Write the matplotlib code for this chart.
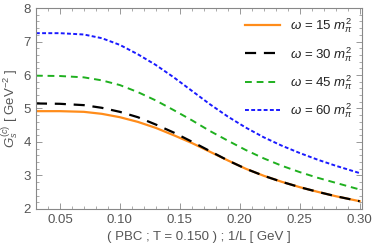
import numpy as np
import matplotlib
matplotlib.use("Agg")
import matplotlib.pyplot as plt
from matplotlib.ticker import MultipleLocator

plt.rcParams['font.family'] = ['Liberation Sans', 'DejaVu Sans']
plt.rcParams['mathtext.fontset'] = 'custom'
plt.rcParams['mathtext.it'] = 'Liberation Sans:italic'
plt.rcParams['mathtext.rm'] = 'Liberation Sans'

inv_L = [0.03, 0.05, 0.07, 0.085, 0.10, 0.115, 0.13, 0.145, 0.16, 0.175,
         0.19, 0.205, 0.22, 0.235, 0.25, 0.265, 0.28, 0.30]

g_w15 = [4.92, 4.92, 4.90, 4.84, 4.74, 4.60, 4.42, 4.20, 3.97, 3.71,
         3.45, 3.20, 2.99, 2.81, 2.65, 2.51, 2.38, 2.23]
g_w30 = [5.15, 5.14, 5.10, 5.02, 4.90, 4.74, 4.52, 4.28, 4.01, 3.73,
         3.45, 3.20, 2.99, 2.81, 2.65, 2.51, 2.38, 2.23]
g_w45 = [5.98, 5.97, 5.93, 5.84, 5.70, 5.49, 5.24, 4.95, 4.65, 4.33,
         4.04, 3.76, 3.51, 3.29, 3.10, 2.93, 2.78, 2.58]
g_w60 = [7.25, 7.25, 7.21, 7.10, 6.90, 6.62, 6.30, 5.93, 5.53, 5.13,
         4.76, 4.43, 4.14, 3.89, 3.67, 3.47, 3.29, 3.07]

labels = [r'$\omega$ = 15 $m_\pi^2$', r'$\omega$ = 30 $m_\pi^2$',
          r'$\omega$ = 45 $m_\pi^2$', r'$\omega$ = 60 $m_\pi^2$']

fig = plt.figure(figsize=(3.74, 2.52), dpi=100)
ax = fig.add_axes([0.096, 0.171, 0.872, 0.797])

ax.plot(inv_L, g_w15, color='#ff8c1a', lw=1.6, label=labels[0])
ax.plot(inv_L, g_w30, color='black', lw=1.6, dashes=(5, 3.5), label=labels[1])
ax.plot(inv_L, g_w45, color='#1fb01f', lw=1.4, dashes=(3.5, 2.5), label=labels[2])
ax.plot(inv_L, g_w60, color='#1a1aff', lw=1.4, dashes=(2, 1.2), label=labels[3])

ax.set_xlim(0.03, 0.302)
ax.set_ylim(2, 8)
ax.xaxis.set_major_locator(MultipleLocator(0.05))
ax.xaxis.set_minor_locator(MultipleLocator(0.01))
ax.yaxis.set_major_locator(MultipleLocator(1))
ax.yaxis.set_minor_locator(MultipleLocator(0.2))
ax.xaxis.set_major_formatter(plt.FuncFormatter(lambda v, p: f'{v:.2f}'))

ax.tick_params(which='both', direction='in', top=True, right=True,
               colors='#888888', labelcolor='#555555', labelsize=9.5)
ax.tick_params(which='major', length=4, width=0.6)
ax.tick_params(which='minor', length=2, width=0.5)
for s in ax.spines.values():
    s.set_color('#888888')
    s.set_linewidth(0.8)

ax.set_xlabel('( PBC ; T = 0.150 ) ; 1/L [ GeV ]', color='#555555', fontsize=9.5, labelpad=4)
ax.set_ylabel(r'$G_s^{(c)}$ [ GeV$^{-2}$ ]', color='#555555', fontsize=9.5, labelpad=2)

leg = ax.legend(loc='upper right', frameon=False, fontsize=9.5, handlelength=2.6,
                labelspacing=0.72, borderaxespad=0.25)
for t in leg.get_texts():
    t.set_color('#222222')

fig.savefig('out.png', dpi=100)
